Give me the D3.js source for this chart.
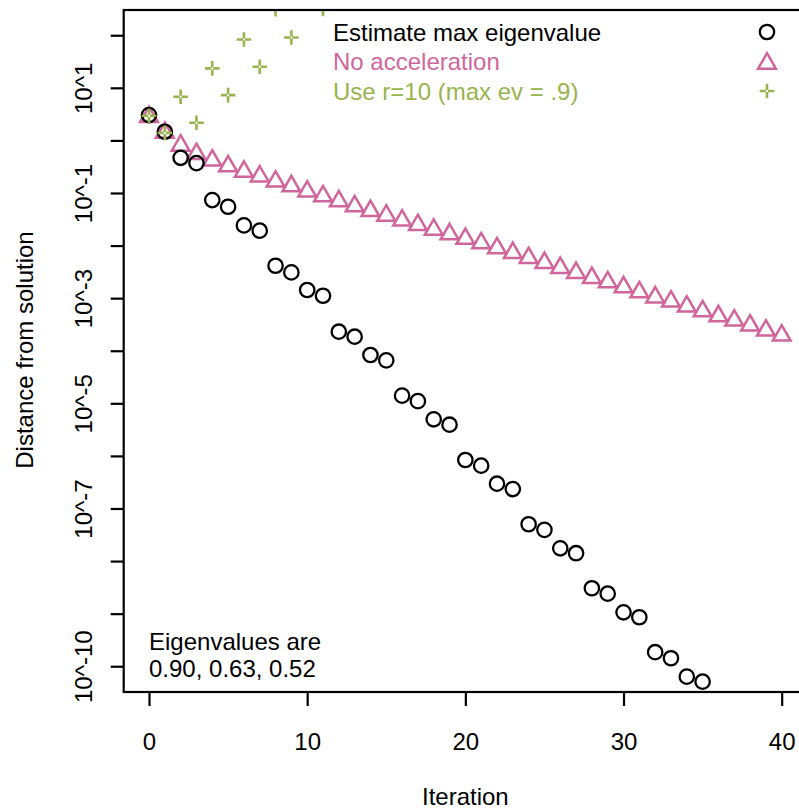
<!DOCTYPE html>
<html>
<head>
<meta charset="utf-8">
<script src="https://cdn.jsdelivr.net/npm/d3@7"></script>
<style>
  body { margin: 0; background: #fff; }
  svg { display: block; font-family: "Liberation Sans", Arial, Helvetica, sans-serif; }
</style>
</head>
<body>
<div class="chart"></div>
<script>
// ______________________________ data ______________________________

// distance from solution, iteration 0..35, estimate max eigenvalue
var estimateMax = [3.03, 1.46, 0.467, 0.370, 0.0733, 0.0547, 0.0242, 0.0192, 0.00413, 0.00309,
    0.00143, 0.00111, 2.30e-4, 1.85e-4, 8.30e-5, 6.56e-5, 1.40e-5, 1.10e-5, 4.97e-6, 3.92e-6,
    8.36e-7, 6.52e-7, 2.96e-7, 2.34e-7, 5.01e-8, 3.92e-8, 1.75e-8, 1.41e-8, 3.04e-9, 2.40e-9,
    1.06e-9, 8.55e-10, 1.85e-10, 1.42e-10, 6.34e-11, 5.09e-11];

// iteration 0..40, no acceleration
var noAccel = [2.80, 1.40, 0.80, 0.553, 0.415, 0.323, 0.256, 0.208, 0.166, 0.135,
    0.107, 0.0869, 0.0698, 0.0561, 0.0457, 0.0373, 0.0300, 0.0247, 0.0202, 0.0165,
    0.0135, 0.0111, 0.00893, 0.00726, 0.00583, 0.00469, 0.00377, 0.00303, 0.00243, 0.00201,
    0.00162, 0.00130, 0.00104, 8.65e-4, 6.95e-4, 5.66e-4, 4.55e-4, 3.77e-4, 3.03e-4, 2.43e-4,
    1.95e-4];

// iteration 0..11, r = 10 (the later ones leave the plot)
var useR10 = [2.95, 1.39, 6.75, 2.16, 23.4, 7.26, 83.2, 25.2, 313, 90.8, 1070, 316];

var xTicks = [0, 10, 20, 30, 40];
var yTickPowers = [2, 1, 0, -1, -2, -3, -4, -5, -6, -7, -8, -9, -10];
var yLabelPowers = [1, -1, -3, -5, -7, -10];
var yLabels = ["10^1", "10^-1", "10^-3", "10^-5", "10^-7", "10^-10"];

var legendNames = ["Estimate max eigenvalue", "No acceleration", "Use r=10 (max ev = .9)"];
var noteLines = ["Eigenvalues are", "0.90, 0.63, 0.52"];

// ______________________________ drawing ______________________________

var width = 799;
var height = 812;
var box = {left: 123.7, right: 807, top: 10, bottom: 692};

var black = "#000000";
var pink = "#d0669b";
var green = "#98b44e";

var svg = d3.select(".chart")
    .append("svg")
    .attr("width", width)
    .attr("height", height);

var xScale = d3.scaleLinear()
    .domain([-1.6, 41.6])
    .range([box.left, box.right]);

var yScale = d3.scaleLog()
    .domain([Math.pow(10, -10.49), Math.pow(10, 2.48)])
    .range([box.bottom, box.top]);

svg.append("clipPath")
    .attr("id", "plotclip")
    .append("rect")
    .attr("x", box.left)
    .attr("y", box.top)
    .attr("width", box.right - box.left)
    .attr("height", box.bottom - box.top);

var plot = svg.append("g").attr("clip-path", "url(#plotclip)");

// R pch shapes
var circleR = 7.2;
var triR = 6.6;
var plusArm = 7.3;

function trianglePath(cx, cy, r) {
    var top = 1.5551 * r, half = 1.3468 * r, base = 0.7776 * r;
    return "M" + cx + "," + (cy - top) +
        "L" + (cx + half) + "," + (cy + base) +
        "L" + (cx - half) + "," + (cy + base) + "Z";
}
function plusPath(cx, cy, a) {
    var g = 1;
    return "M" + (cx - a) + "," + cy + "H" + (cx - g) +
        "M" + (cx + g) + "," + cy + "H" + (cx + a) +
        "M" + cx + "," + (cy - a) + "V" + (cy - g) +
        "M" + cx + "," + (cy + g) + "V" + (cy + a);
}

plot.append("g")
    .selectAll("path")
    .data(noAccel)
    .join("path")
    .attr("d", (d, i) => trianglePath(xScale(i), yScale(d), triR))
    .attr("fill", "none")
    .attr("stroke", pink)
    .attr("stroke-width", 2.5);

plot.append("g")
    .selectAll("circle")
    .data(estimateMax)
    .join("circle")
    .attr("cx", (d, i) => xScale(i))
    .attr("cy", d => yScale(d))
    .attr("r", circleR)
    .attr("fill", "none")
    .attr("stroke", black)
    .attr("stroke-width", 2.3);

plot.append("g")
    .selectAll("path")
    .data(useR10)
    .join("path")
    .attr("d", (d, i) => plusPath(xScale(i), yScale(d), plusArm))
    .attr("fill", "none")
    .attr("stroke", green)
    .attr("stroke-width", 2.6);

// axes
var xAxis = svg.append("g")
    .attr("transform", `translate(0,${box.bottom})`)
    .call(d3.axisBottom(xScale).tickValues(xTicks).tickSize(14).tickFormat(d3.format("d")));

xAxis.select(".domain").remove();
xAxis.selectAll("line").attr("stroke-width", 2.2);
xAxis.selectAll("text")
    .attr("y", 58)
    .attr("dy", 0)
    .attr("font-size", "24px")
    .attr("fill", black);

var yAxis = svg.append("g")
    .attr("transform", `translate(${box.left},0)`)
    .call(d3.axisLeft(yScale)
        .tickValues(yTickPowers.map(p => Math.pow(10, p)))
        .tickSize(13)
        .tickFormat(d => {
            var k = yLabelPowers.indexOf(Math.round(Math.log10(d)));
            return k < 0 ? "" : yLabels[k];
        }));

yAxis.select(".domain").remove();
yAxis.selectAll("line").attr("stroke-width", 2.2);
yAxis.selectAll("text")
    .attr("x", 0)
    .attr("y", -32)
    .attr("dy", 0)
    .attr("transform", "rotate(-90)")
    .attr("text-anchor", "middle")
    .attr("font-size", "24px")
    .attr("fill", black);

svg.append("rect")
    .attr("x", box.left)
    .attr("y", box.top)
    .attr("width", box.right - box.left)
    .attr("height", box.bottom - box.top)
    .attr("fill", "none")
    .attr("stroke", black)
    .attr("stroke-width", 2.2);

// axis titles
svg.append("text")
    .attr("x", xScale(20))
    .attr("y", 805)
    .attr("text-anchor", "middle")
    .attr("font-size", "24px")
    .text("Iteration");

svg.append("text")
    .attr("transform", "rotate(-90)")
    .attr("x", -350)
    .attr("y", 33)
    .attr("text-anchor", "middle")
    .attr("font-size", "24px")
    .text("Distance from solution");

// legend
var legendColors = [black, pink, green];
var legendY = [32, 61, 91];
var legend = svg.append("g").attr("font-size", "24px");

legend.selectAll("text")
    .data(legendNames)
    .join("text")
    .attr("x", 333)
    .attr("y", (d, i) => legendY[i] + 8.5)
    .attr("fill", (d, i) => legendColors[i])
    .text(d => d);

legend.append("circle")
    .attr("cx", 767).attr("cy", legendY[0]).attr("r", circleR)
    .attr("fill", "none").attr("stroke", black).attr("stroke-width", 2.3);
legend.append("path")
    .attr("d", trianglePath(767, legendY[1] + 2.5, triR))
    .attr("fill", "none").attr("stroke", pink).attr("stroke-width", 2.5);
legend.append("path")
    .attr("d", plusPath(767, legendY[2], plusArm))
    .attr("fill", "none").attr("stroke", green).attr("stroke-width", 2.6);

// note in the lower left
svg.append("g")
    .attr("font-size", "24px")
    .selectAll("text")
    .data(noteLines)
    .join("text")
    .attr("x", 149)
    .attr("y", (d, i) => 650 + i * 27)
    .text(d => d);
</script>
</body>
</html>
